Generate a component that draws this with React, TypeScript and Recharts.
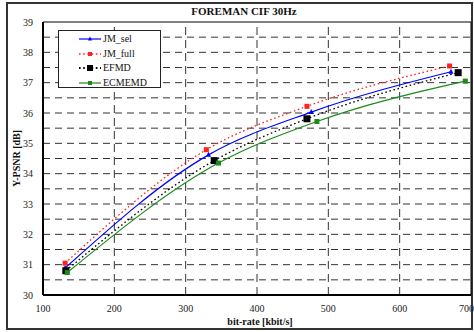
import React from 'react';
import { LineChart, Line, XAxis, YAxis, ReferenceLine, Legend, Label } from 'recharts';

const seriesNames = ['JM_sel', 'JM_full', 'EFMD', 'ECMEMD'];
const jmSelRate = [131, 332, 476, 672];
const jmSelPsnr = [30.89, 34.62, 36.03, 37.36];
const jmFullRate = [131, 329, 470, 670];
const jmFullPsnr = [31.05, 34.79, 36.22, 37.55];
const efmdRate = [132, 340, 470, 682];
const efmdPsnr = [30.8, 34.43, 35.81, 37.33];
const ecmemdRate = [134, 346, 484, 692];
const ecmemdPsnr = [30.74, 34.35, 35.72, 37.05];
const xTicks = [100, 200, 300, 400, 500, 600, 700];
const yTicks = [30, 31, 32, 33, 34, 35, 36, 37, 38, 39];
const hGrid = [30.5, 31, 31.5, 32, 32.5, 33, 33.5, 34, 34.5, 35, 35.5, 36, 36.5, 37, 37.5, 38, 38.5];
const vGrid = [200, 300, 400, 500, 600];

const toData = (xs: number[], ys: number[]) => xs.map((x, i) => ({ x, y: ys[i] }));

const FONT = '"Liberation Serif", "Times New Roman", serif';

type MarkerKind = 'tri' | 'sq';
const styles = [
  { color: '#0000ff', dash: undefined as string | undefined, marker: 'tri' as MarkerKind, size: 5, width: 1.2 },
  { color: '#ff2020', dash: '1.6 2.6', marker: 'sq' as MarkerKind, size: 5, width: 1.3 },
  { color: '#000000', dash: '1.6 2.6', marker: 'sq' as MarkerKind, size: 7, width: 1.3 },
  { color: '#1a8a1a', dash: undefined as string | undefined, marker: 'sq' as MarkerKind, size: 5, width: 1.2 },
];

const Marker = ({ cx, cy, kind, size, color }: any) => {
  if (cx == null || cy == null) return null;
  if (kind === 'tri') {
    const h = size;
    return <polygon points={`${cx},${cy - h / 2 - 0.5} ${cx - h / 2},${cy + h / 2 - 0.5} ${cx + h / 2},${cy + h / 2 - 0.5}`} fill={color} />;
  }
  return <rect x={cx - size / 2} y={cy - size / 2} width={size} height={size} fill={color} />;
};

const LegendBox = () => (
  <div style={{ width: 103, height: 58, border: '1px solid #222', background: '#fff', boxSizing: 'border-box', fontFamily: FONT, fontSize: 10, lineHeight: '12px', position: 'relative' }}>
    {seriesNames.map((n, i) => {
      const s = styles[i];
      return (
        <div key={n} style={{ position: 'absolute', left: 19, top: 2 + i * 14.6, height: 12, lineHeight: '12px', display: 'flex', alignItems: 'center' }}>
          <svg width={24} height={12} style={{ display: 'block' }}>
            <line x1={1} y1={6} x2={23} y2={6} stroke={s.color} strokeWidth={i === 2 ? 2 : s.width} strokeDasharray={s.dash} />
            <Marker cx={12} cy={6} kind={s.marker} size={s.marker === 'tri' ? 4 : i === 2 ? 6 : 4} color={s.color} />
          </svg>
          <span style={{ marginLeft: 1, color: '#111', whiteSpace: 'nowrap', lineHeight: '12px' }}>{n}</span>
        </div>
      );
    })}
  </div>
);

export default function App() {
  const datasets = [
    toData(jmSelRate, jmSelPsnr),
    toData(jmFullRate, jmFullPsnr),
    toData(efmdRate, efmdPsnr),
    toData(ecmemdRate, ecmemdPsnr),
  ];
  return (
    <div style={{ position: 'absolute', left: 0, top: 0, width: 474, height: 332, background: '#fff' }}>
      <div style={{ position: 'absolute', left: 6, top: 2, width: 467, height: 328, border: '2px solid #333', boxSizing: 'border-box' }} />
      <div style={{ position: 'absolute', left: 0, top: 5, width: 488, textAlign: 'center', fontFamily: FONT, fontWeight: 'bold', fontSize: 11, color: '#111' }}>
        FOREMAN CIF 30Hz
      </div>
      <div style={{ position: 'absolute', left: 0, top: 0 }}>
        <LineChart width={474} height={332} margin={{ top: 22, right: 3, bottom: 0, left: 0 }}>
          <XAxis
            type="number"
            dataKey="x"
            domain={[100, 700]}
            ticks={xTicks}
            allowDataOverflow
            height={37}
            tickSize={0}
            tickMargin={10}
            axisLine={{ stroke: '#000', strokeWidth: 2 }}
            tick={{ fontFamily: FONT, fontSize: 10, fill: '#222' }}
          >
            <Label
              content={({ viewBox }: any) => (
                <text x={viewBox.x + viewBox.width / 2 + 3} y={viewBox.y + 30} textAnchor="middle" fontFamily={FONT} fontWeight="bold" fontSize={10} fill="#111">
                  bit-rate [kbit/s]
                </text>
              )}
            />
          </XAxis>
          <YAxis
            type="number"
            domain={[30, 39]}
            ticks={yTicks}
            allowDataOverflow
            width={43}
            tickSize={0}
            tickMargin={10}
            axisLine={{ stroke: '#000', strokeWidth: 2 }}
            tick={{ fontFamily: FONT, fontSize: 10, fill: '#222' }}
          >
            <Label
              content={({ viewBox }: any) => {
                const cx = 16;
                const cy = viewBox.y + viewBox.height / 2;
                return (
                  <text x={cx} y={cy} transform={`rotate(-90 ${cx} ${cy})`} textAnchor="middle" dominantBaseline="central" fontFamily={FONT} fontWeight="bold" fontSize={10} fill="#111">
                    Y-PSNR [dB]
                  </text>
                );
              }}
            />
          </YAxis>
          {hGrid.map((v) => (
            <ReferenceLine key={'h' + v} y={v} stroke="#333" strokeDasharray="7 5" strokeWidth={1} />
          ))}
          {vGrid.map((v) => (
            <ReferenceLine key={'v' + v} x={v} stroke="#333" strokeDasharray="8 5" strokeWidth={1} />
          ))}
          <ReferenceLine y={39} stroke="#000" strokeWidth={1} />
          <ReferenceLine x={700} stroke="#000" strokeWidth={1} />
          {datasets.map((d, i) => {
            const s = styles[i];
            return (
              <Line
                key={seriesNames[i]}
                data={d}
                dataKey="y"
                name={seriesNames[i]}
                type="monotone"
                stroke={s.color}
                strokeWidth={s.width}
                strokeDasharray={s.dash}
                isAnimationActive={false}
                activeDot={false}
                dot={(p: any) => <Marker key={seriesNames[i] + p.index} cx={p.cx} cy={p.cy} kind={s.marker} size={s.size} color={s.color} />}
              />
            );
          })}
          <Legend
            layout="vertical"
            align="center"
            verticalAlign="middle"
            content={() => <LegendBox />}
            wrapperStyle={{ position: 'absolute', left: 58, top: 30, width: 103, height: 58 }}
          />
        </LineChart>
      </div>
    </div>
  );
}
